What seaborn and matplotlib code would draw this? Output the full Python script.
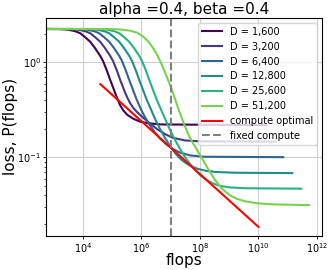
import matplotlib
matplotlib.use("Agg")
import matplotlib.pyplot as plt
import numpy as np
import pandas as pd
import seaborn as sns

# valeurs : log10(flops) et perte P(flops) pour chaque D
D_labels = ["D = 1,600", "D = 3,200", "D = 6,400", "D = 12,800", "D = 25,600", "D = 51,200"]

logx_1600 = [2.745, 3.224, 3.497, 3.737, 3.908, 4.079, 4.250, 4.421, 4.591, 4.694, 4.831,
             4.933, 5.070, 5.173, 5.275, 5.378, 5.515, 5.720, 5.959, 6.198, 6.643, 10.268]
loss_1600 = [2.25, 2.247, 2.214, 2.135, 2.034, 1.846, 1.656, 1.414, 1.179, 1.032, 0.810,
             0.659, 0.511, 0.421, 0.355, 0.315, 0.282, 0.256, 0.238, 0.230, 0.2225, 0.2188]

logx_3200 = [2.745, 3.566, 3.839, 4.079, 4.250, 4.421, 4.591, 4.762, 4.933, 5.036, 5.173, 5.275,
             5.412, 5.515, 5.617, 5.720, 5.856, 6.062, 6.301, 6.540, 6.814, 7.087, 7.497, 8.010, 10.574]
loss_3200 = [2.25, 2.247, 2.214, 2.135, 2.034, 1.846, 1.656, 1.414, 1.179, 1.032, 0.810, 0.659,
             0.511, 0.431, 0.373, 0.334, 0.300, 0.262, 0.227, 0.1986, 0.1758, 0.1605, 0.1510, 0.1477, 0.1466]

logx_6400 = [2.745, 3.874, 4.147, 4.386, 4.557, 4.728, 4.899, 5.070, 5.241, 5.344, 5.480, 5.583, 5.720,
             5.822, 5.925, 6.027, 6.164, 6.301, 6.472, 6.643, 6.848, 7.087, 7.327, 7.668, 8.113, 10.848]
loss_6400 = [2.25, 2.247, 2.214, 2.135, 2.034, 1.846, 1.656, 1.414, 1.179, 1.032, 0.810, 0.659, 0.511,
             0.421, 0.355, 0.303, 0.253, 0.2162, 0.1824, 0.1577, 0.138, 0.1223, 0.1123, 0.105, 0.1017, 0.1007]

logx_12800 = [2.745, 4.215, 4.489, 4.728, 4.899, 5.070, 5.241, 5.412, 5.583, 5.686, 5.822, 5.925,
              6.062, 6.164, 6.267, 6.369, 6.506, 6.643, 6.814, 6.985, 7.156, 7.327, 7.497, 7.668,
              7.908, 8.181, 8.523, 9.207, 11.156]
loss_12800 = [2.25, 2.247, 2.214, 2.135, 2.034, 1.846, 1.656, 1.414, 1.179, 1.032, 0.810, 0.659,
              0.511, 0.421, 0.355, 0.300, 0.241, 0.1986, 0.1597, 0.1315, 0.1110, 0.0971, 0.0882, 0.0820,
              0.0762, 0.0726, 0.0704, 0.0690, 0.0684]

logx_25600 = [2.745, 4.557, 4.831, 5.070, 5.241, 5.412, 5.583, 5.754, 5.925, 6.027, 6.164, 6.267,
              6.403, 6.506, 6.609, 6.711, 6.848, 6.985, 7.156, 7.327, 7.497, 7.668, 7.839, 8.010,
              8.215, 8.421, 8.694, 9.036, 9.549, 11.463]
loss_25600 = [2.25, 2.247, 2.214, 2.135, 2.034, 1.846, 1.656, 1.414, 1.179, 1.032, 0.810, 0.659,
              0.511, 0.421, 0.355, 0.300, 0.241, 0.1938, 0.1521, 0.1223, 0.1007, 0.0850, 0.0735, 0.0651,
              0.0584, 0.0536, 0.0501, 0.0483, 0.0474, 0.0469]

logx_51200 = [2.745, 4.933, 5.275, 5.617, 5.856, 6.062, 6.232, 6.403, 6.540, 6.643, 6.814, 6.985,
              7.121, 7.224, 7.327, 7.429, 7.566, 7.668, 7.805, 7.908, 8.079, 8.215, 8.352, 8.523,
              8.694, 8.865, 9.070, 9.275, 9.549, 9.959, 10.574, 11.737]
loss_51200 = [2.25, 2.247, 2.225, 2.161, 2.059, 1.869, 1.676, 1.414, 1.208, 1.032, 0.781, 0.577,
              0.442, 0.355, 0.289, 0.238, 0.1869, 0.1597, 0.1347, 0.1194, 0.0971, 0.0820, 0.0700, 0.0577,
              0.0493, 0.0437, 0.0393, 0.0366, 0.0345, 0.0329, 0.0320, 0.0315]

# frontière "compute optimal" et budget fixe
optimal_logx = [4.6, 10.0]
optimal_loss = [0.591, 0.0186]
fixed_compute = 1e7

x_ticks = [1e4, 1e6, 1e8, 1e10, 1e12]

curves = [
    (logx_1600, loss_1600),
    (logx_3200, loss_3200),
    (logx_6400, loss_6400),
    (logx_12800, loss_12800),
    (logx_25600, loss_25600),
    (logx_51200, loss_51200),
]

rows = []
for label, (lx, ls) in zip(D_labels, curves):
    for x, y in zip(lx, ls):
        rows.append({"flops": 10 ** x, "loss": y, "D": label})
df = pd.DataFrame(rows)

palette = [plt.cm.viridis(v) for v in np.linspace(0, 0.8, len(D_labels))]

fig = plt.figure(figsize=(3.32, 2.70), dpi=100)
ax = fig.add_axes([0.1395, 0.127, 0.829, 0.806])

sns.lineplot(data=df, x="flops", y="loss", hue="D", hue_order=D_labels,
             palette=palette, linewidth=1.5, sort=False, ax=ax)
ax.plot(10 ** np.array(optimal_logx), optimal_loss, color="red", linewidth=1.5,
        label="compute optimal")
ax.axvline(fixed_compute, color="gray", linestyle="--", linewidth=1.5, label="fixed compute")

ax.set_xscale("log")
ax.set_yscale("log")
ax.set_xticks(x_ticks)
ax.set_xlim(10 ** 2.755, 10 ** 12.157)
ax.set_ylim(0.0150, 2.93)
ax.grid(True, which="major", color="#d0d0d0", linewidth=0.8)
ax.set_axisbelow(True)

ax.set_title("alpha =0.4, beta =0.4", fontsize=11, pad=3)
ax.set_xlabel("flops", fontsize=11)
ax.set_ylabel("loss, P(flops)", fontsize=11)
ax.xaxis.set_label_coords(0.5, -0.08)
ax.yaxis.set_label_coords(-0.102, 0.5)
ax.tick_params(axis="both", which="major", labelsize=7, length=2.5, pad=1.2, width=0.6)
ax.tick_params(axis="both", which="minor", length=1.5, width=0.5)

ax.legend(loc="upper right", fontsize=7, framealpha=0.8)

fig.savefig("out.png", dpi=100)
